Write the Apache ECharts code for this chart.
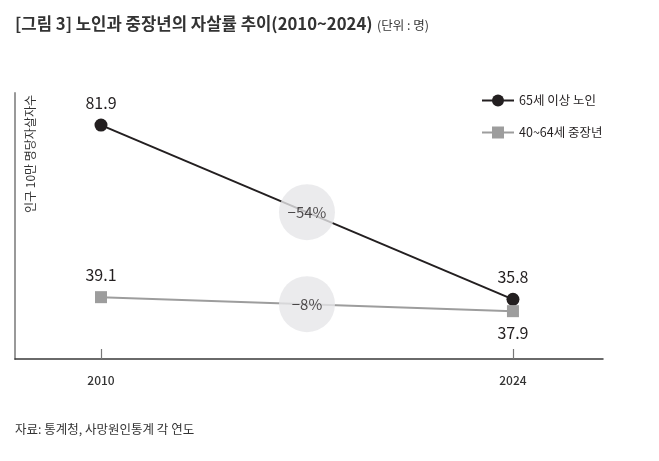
<!DOCTYPE html>
<html><head><meta charset="utf-8">
<script src="https://cdn.jsdelivr.net/npm/echarts@6/dist/echarts.min.js"></script>
<style>html,body{margin:0;padding:0;background:#fff}#c{width:659px;height:461px}</style>
</head><body><div id="c"></div>
<script>
const years = [2010, 2024];
const seniors = [81.9, 35.8];
const middleAged = [39.1, 37.9];
const seriesNames = ['65세 이상 노인', '40~64세 중장년'];
const changeLabels = ['−54%', '−8%'];
const titleText = '[그림 3] 노인과 중장년의 자살률 추이(2010~2024)';
const unitText = '(단위 : 명)';
const yAxisTitle = '인구 10만 명당자살자수';
const sourceText = '자료: 통계청, 사망원인통계 각 연도';

const FONT = '"Noto Sans CJK KR", "Noto Sans", sans-serif';
const chart = echarts.init(document.getElementById('c'), null, {renderer: 'canvas'});
const midYear = (years[0] + years[1]) / 2;
const mean = a => a.reduce((s, v) => s + v, 0) / a.length;

const option = {
  backgroundColor: '#fff',
  animation: false,
  textStyle: {fontFamily: FONT},
  grid: {left: 15, right: 56, top: 93, bottom: 102},
  legend: {
    orient: 'vertical', left: 481, top: 93, padding: 0, itemWidth: 32, itemHeight: 15, itemGap: 17,
    data: seriesNames,
    textStyle: {fontSize: 12.5, color: '#231f20', fontFamily: FONT, lineHeight: 15, height: 15}
  },
  xAxis: {
    type: 'value', min: 2007.078, max: 2027.06,
    splitLine: {show: false},
    axisLine: {show: true, lineStyle: {color: '#3a3a3a', width: 1.5}},
    axisTick: {show: true, inside: true, length: 10, customValues: years, lineStyle: {color: '#777', width: 1.2}},
    axisLabel: {show: true, customValues: years, margin: 15, fontSize: 12, fontWeight: 500, color: '#333', fontFamily: FONT, formatter: v => String(v)}
  },
  yAxis: [
    {type: 'value', min: 20, max: 90.4, position: 'left',
     splitLine: {show: false}, axisTick: {show: false}, axisLabel: {show: false},
     axisLine: {show: true, lineStyle: {color: '#999', width: 2}}},
    {type: 'value', min: 33.8, max: 56.6, position: 'left', show: false,
     splitLine: {show: false}}
  ],
  series: [
    {
      name: seriesNames[0], type: 'line', yAxisIndex: 0, z: 2,
      data: years.map((y, i) => [y, seniors[i]]),
      symbol: 'circle', symbolSize: 13,
      itemStyle: {color: '#231f20'}, lineStyle: {color: '#231f20', width: 2},
      label: {show: true, position: 'top', distance: 8, fontSize: 16, color: '#231f20', fontFamily: FONT,
              formatter: p => p.value[1].toFixed(1)}
    },
    {
      name: seriesNames[1], type: 'line', yAxisIndex: 1, z: 3,
      data: years.map((y, i) => ({value: [y, middleAged[i]], label: {position: i === 1 ? 'bottom' : 'top'}})),
      symbol: 'rect', symbolSize: 12,
      itemStyle: {color: '#9d9d9d'}, lineStyle: {color: '#9d9d9d', width: 2},
      label: {show: true, distance: 8, fontSize: 16, color: '#231f20', fontFamily: FONT,
              formatter: p => p.value[1].toFixed(1)}
    },
    {
      type: 'scatter', yAxisIndex: 0, z: 5, silent: true,
      data: [[midYear, mean(seniors)]],
      symbol: 'circle', symbolSize: 56, itemStyle: {color: '#e6e6e8'},
      label: {show: true, position: 'inside', fontSize: 15, color: '#231f20', fontFamily: FONT, formatter: () => changeLabels[0]}
    },
    {
      type: 'scatter', yAxisIndex: 1, z: 5, silent: true,
      data: [[midYear, mean(middleAged)]],
      symbol: 'circle', symbolSize: 56, itemStyle: {color: '#e6e6e8'},
      label: {show: true, position: 'inside', fontSize: 15, color: '#231f20', fontFamily: FONT, formatter: () => changeLabels[1]}
    }
  ],
  graphic: [
    {type: 'text', left: 15, top: 15, style: {text: titleText, fill: '#333', font: 'bold 16.7px ' + FONT}},
    {type: 'text', left: 377, top: 19, style: {text: unitText, fill: '#333', font: '12.5px ' + FONT}},
    {type: 'text', x: 30, y: 154, rotation: Math.PI / 2,
     style: {text: yAxisTitle, fill: '#333', font: '12px ' + FONT, align: 'center', verticalAlign: 'middle'}},
    {type: 'text', left: 15, top: 423, style: {text: sourceText, fill: '#333', font: '12.5px ' + FONT}}
  ]
};
chart.setOption(option);
</script>
</body></html>
